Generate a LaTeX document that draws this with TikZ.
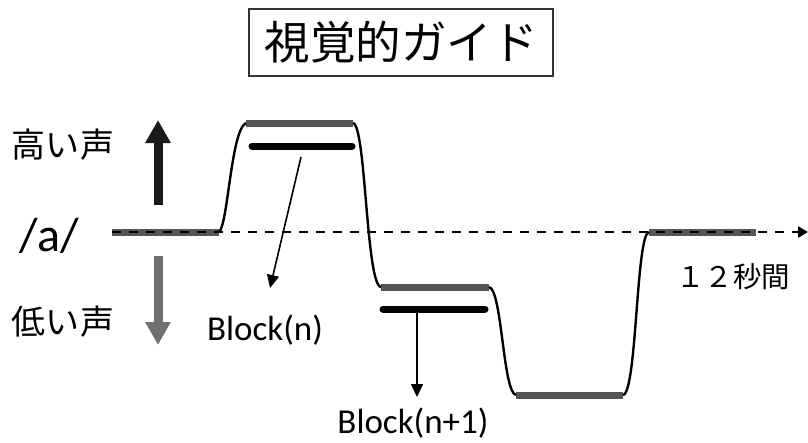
\documentclass[tikz,border=0pt]{standalone}
\usepackage{fontspec}
\setmainfont{Carlito}
\newfontfamily\jp{Noto Sans CJK JP}
\usetikzlibrary{arrows.meta}
\definecolor{bargray}{HTML}{555555}
\definecolor{lowgray}{HTML}{707070}
\definecolor{highblack}{HTML}{1A1A1A}
\tikzset{
  graybar/.style={draw=bargray,line width=7pt,line cap=butt},
  blackbar/.style={draw=black,line width=7pt,line cap=round},
  pitch/.style={draw=black,line width=2.4pt},
  pointer/.style={draw=black,line width=1.6pt,-{Triangle[length=13pt,width=12pt]}},
  bigarrow/.style={line width=9pt,-{Triangle[length=23pt,width=24pt]}},
  jplabel/.style={font=\jp\fontsize{34}{40}\selectfont,inner sep=0pt},
  enlabel/.style={font=\fontsize{35}{42}\selectfont,inner sep=0pt}
}
\begin{document}
\begin{tikzpicture}[x=1pt,y=-1pt]
\useasboundingbox (0,0) rectangle (808,442);
% title
\node[draw=black!80,line width=1.2pt,minimum width=304pt,minimum height=67pt,inner sep=0pt,
      font=\jp\fontsize{45.5}{50}\selectfont] (title) at (401,42.5) {視覚的ガイド};
% bar end points
\coordinate (b0l) at (112,232); \coordinate (b0r) at (219,232);
\coordinate (b1l) at (246,123); \coordinate (b1r) at (353,123);
\coordinate (b2l) at (381,287); \coordinate (b2r) at (489,287);
\coordinate (b3l) at (516,395); \coordinate (b3r) at (623,395);
\coordinate (b4l) at (649,232); \coordinate (b4r) at (756,232);
\coordinate (k1l) at (252,146); \coordinate (k1r) at (352,146);
\coordinate (k2l) at (383,309); \coordinate (k2r) at (485,309);
% gray bars
\draw[graybar] (b0l) -- (b0r);
\draw[graybar] (b1l) -- (b1r);
\draw[graybar] (b2l) -- (b2r);
\draw[graybar] (b3l) -- (b3r);
\draw[graybar] (b4l) -- (b4r);
% black bars
\draw[blackbar] (k1l) -- (k1r);
\draw[blackbar] (k2l) -- (k2r);
% pitch contour
\draw[pitch] (b0r) .. controls (228,225) and (231,130) .. (b1l);
\draw[pitch] (b1r) .. controls (366,125) and (366,285) .. (b2l);
\draw[pitch] (b2r) .. controls (502,289) and (503,393) .. (b3l);
\draw[pitch] (b3r) .. controls (637,393) and (636,234) .. (b4l);
% dashed time axis
\coordinate (axisend) at (808,232);
\draw[line width=2.9pt,dash pattern=on 9pt off 8pt,-{Triangle[length=10pt,width=11pt]}] (b0l) -- (axisend);
% labels
\node[font=\fontsize{48}{52}\selectfont,inner sep=0pt] (a) at (49,236) {/a/};
\node[jplabel] (high) at (63,145) {高い声};
\node[jplabel] (low) at (63,322) {低い声};
\node[font=\jp\fontsize{28.5}{32}\selectfont,inner sep=0pt] (dur) at (733,277) {１２秒間};
\node[enlabel] (blockn) at (265,330) {Block(n)};
\node[enlabel] (blockn1) at (413,423) {Block(n+1)};
% pitch direction arrows
\coordinate (upb) at (158,205); \coordinate (upt) at (158,120);
\coordinate (dnt) at (158,256); \coordinate (dnb) at (158,345);
\draw[bigarrow,draw=highblack,fill=highblack] (upb) -- (upt);
\draw[bigarrow,draw=lowgray,fill=lowgray] (dnt) -- (dnb);
% block pointers
\coordinate (p1) at (301,157); \coordinate (p1e) at (270,288);
\coordinate (p2) at (417,313); \coordinate (p2e) at (417,397);
\draw[pointer] (p1) -- (p1e);
\draw[pointer] (p2) -- (p2e);
\end{tikzpicture}
\end{document}
